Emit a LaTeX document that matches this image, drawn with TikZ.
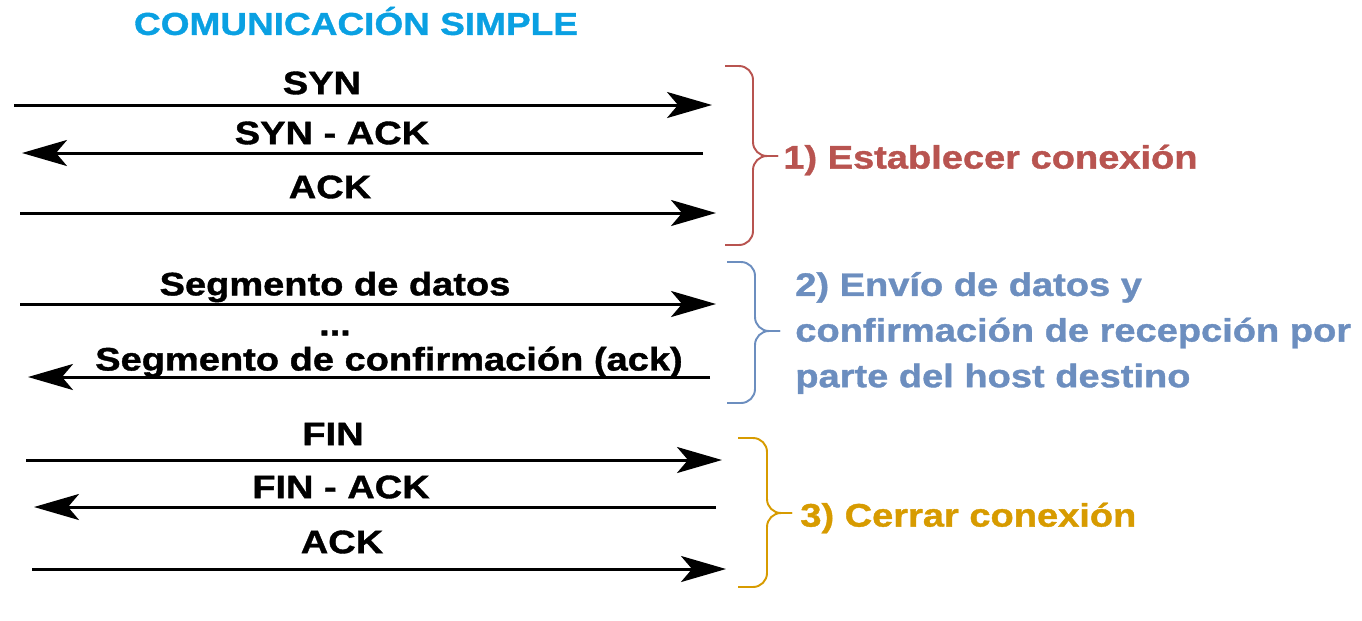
\documentclass[tikz,border=0pt]{standalone}
\usepackage{fontspec}
\setmainfont{Liberation Sans}
\newfontfamily\heavyfont{Liberation Sans Bold}[FakeStretch=1.17, FakeBold=1.2]
\usetikzlibrary{arrows.meta}

\definecolor{titleblue}{HTML}{0AA0E2}
\definecolor{stepred}{HTML}{B85450}
\definecolor{stepblue}{HTML}{6C8EBF}
\definecolor{steporange}{HTML}{D79B00}

\tikzset{
  msg/.style={line width=1.7pt, -{Stealth[length=0.9cm, width=0.52cm, inset=0.22cm]}},
  lbl/.style={font=\fontsize{18.5}{26}\heavyfont, inner sep=0pt},
  brace/.style={line width=1.1pt, rounded corners=0.28cm},
}

\begin{document}
\begin{tikzpicture}[x=0.02cm, y=-0.02cm]
  \useasboundingbox (0,0) rectangle (1362,620);

  \node[lbl, text=titleblue, font=\fontsize{18}{22}\heavyfont] (title) at (356,21) {COMUNICACIÓN SIMPLE};

  \coordinate (synL) at (14,105);   \coordinate (synR) at (712,105);
  \coordinate (sackL) at (22,153);  \coordinate (sackR) at (703,153);
  \coordinate (ackL) at (20,213);   \coordinate (ackR) at (716,213);
  \coordinate (datL) at (20,304);   \coordinate (datR) at (716,304);
  \coordinate (confL) at (28,377);  \coordinate (confR) at (710,377);
  \coordinate (finL) at (26,460);   \coordinate (finR) at (722,460);
  \coordinate (fackL) at (34,507);  \coordinate (fackR) at (716,507);
  \coordinate (lackL) at (32,569);  \coordinate (lackR) at (726,569);

  \draw[msg] (synL) -- (synR);
  \draw[msg] (sackR) -- (sackL);
  \draw[msg] (ackL) -- (ackR);
  \draw[msg] (datL) -- (datR);
  \draw[msg] (confR) -- (confL);
  \draw[msg] (finL) -- (finR);
  \draw[msg] (fackR) -- (fackL);
  \draw[msg] (lackL) -- (lackR);

  \node[lbl] (syn) at (322,83) {SYN};
  \node[lbl] (sack) at (332,133) {SYN - ACK};
  \node[lbl] (ack) at (330,187) {ACK};
  \node[lbl] (dat) at (335,287) {Segmento de datos};
  \node[lbl] (dots) at (335,333) {...};
  \node[lbl] (conf) at (389,362) {Segmento de confirmación (ack)};
  \node[lbl] (fin) at (333,434) {FIN};
  \node[lbl] (fack) at (341,487) {FIN - ACK};
  \node[lbl] (lack) at (342,542) {ACK};

  \coordinate (estTip) at (778,156);
  \draw[brace, stepred] (725,66) -- (753,66) -- (753,156) -- (estTip);
  \draw[brace, stepred] (725,245) -- (753,245) -- (753,156) -- (estTip);
  \node[lbl, text=stepred, anchor=west] (est) at (783,160) {1) Establecer conexión};

  \coordinate (envTip) at (780,331);
  \draw[brace, stepblue] (727,262) -- (755,262) -- (755,331) -- (envTip);
  \draw[brace, stepblue] (727,403) -- (755,403) -- (755,331) -- (envTip);
  \node[lbl, text=stepblue, anchor=west, align=left] (env) at (795,333)
  {2) Envío de datos y\\confirmación de recepción por\\parte del host destino};

  \coordinate (cerTip) at (792,513);
  \draw[brace, steporange] (738,438) -- (767,438) -- (767,513) -- (cerTip);
  \draw[brace, steporange] (738,587) -- (767,587) -- (767,513) -- (cerTip);
  \node[lbl, text=steporange, anchor=west] (cer) at (800,518) {3) Cerrar conexión};

\end{tikzpicture}
\end{document}
